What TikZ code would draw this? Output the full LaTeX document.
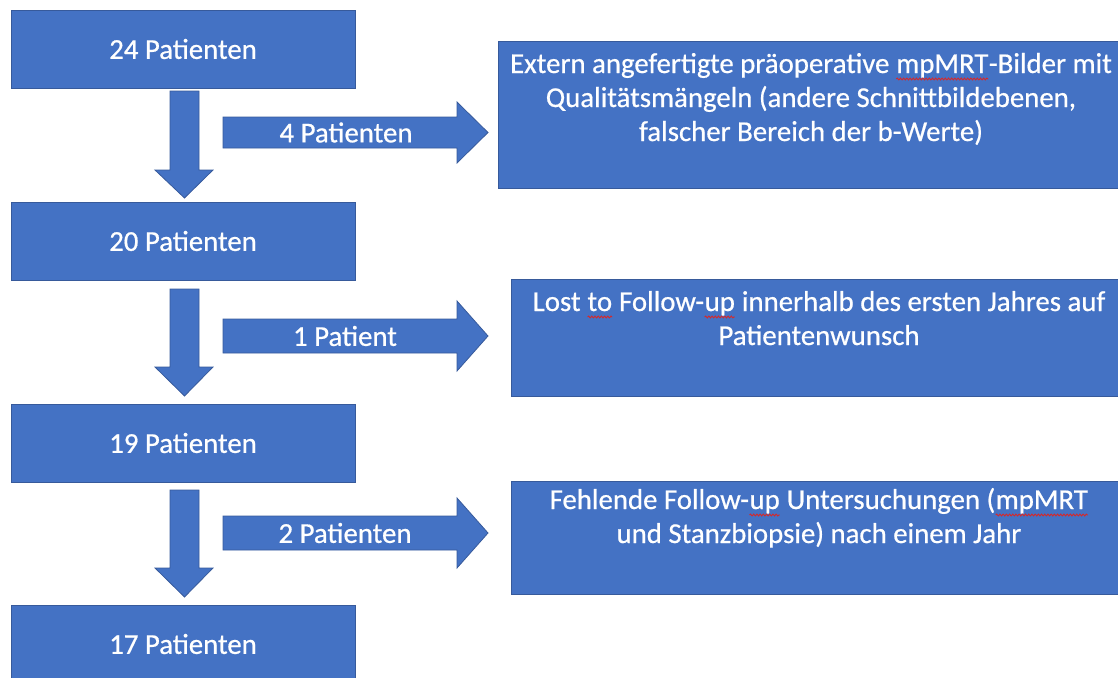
\documentclass[tikz,border=0pt]{standalone}
\usepackage{fontspec}
\setmainfont{Carlito}[UprightFeatures={FakeBold=0.6}]
\usetikzlibrary{decorations.pathmorphing}
\definecolor{boxblue}{RGB}{68,114,196}
\definecolor{boxline}{RGB}{55,90,155}
\definecolor{spellred}{RGB}{215,40,40}
\newcommand\spellwave[1]{\tikz[baseline=(w.base)]{\node[inner sep=0pt,outer sep=0pt](w){#1};\draw[spellred, line width=0.9pt, decorate, decoration={snake, amplitude=0.9pt, segment length=3.2pt}] ([yshift=-6pt]w.base west) -- ([yshift=-6pt]w.base east);}}
\tikzset{
  box/.style={draw=boxline, line width=0.8pt, fill=boxblue, rectangle, inner sep=0pt},
  blockarrow/.style={draw=boxline, line width=0.8pt, fill=boxblue, line join=miter},
  txt/.style={text=white, font=\fontsize{28.8}{34}\selectfont, align=center, inner sep=0pt}
}
\begin{document}
\begin{tikzpicture}[x=1pt,y=-1pt]
\useasboundingbox (0,0) rectangle (1118,677);
\clip (0,0) rectangle (1118,677);
% left boxes
\node[box, txt, minimum width=344pt, minimum height=78pt] (b1) at (183,49) {24 Patienten};
\node[box, txt, minimum width=344pt, minimum height=78pt] (b2) at (183,241) {20 Patienten};
\node[box, txt, minimum width=344pt, minimum height=78pt] (b3) at (183,443) {19 Patienten};
\node[box, txt, minimum width=344pt, minimum height=85pt, anchor=north] (b4) at (183,605) {};
\node[txt] (b4t) at (183,644) {17 Patienten};
% right boxes (run past the right edge of the picture)
\node[box, minimum width=640pt, minimum height=146.5pt, anchor=north west] (r1) at (498,41) {};
\node[box, minimum width=630pt, minimum height=117pt, anchor=north west] (r2) at (511,279) {};
\node[box, minimum width=630pt, minimum height=113pt, anchor=north west] (r3) at (511,481) {};
% base anchor = baseline of the last line
\node[txt, anchor=base] (t1) at (811,141) {Extern angefertigte präoperative \spellwave{mpMRT}-Bilder mit\\Qualitätsmängeln (andere Schnittbildebenen,\\falscher Bereich der b-Werte)};
\node[txt, anchor=base] (t2) at (819,345) {Lost \spellwave{to} Follow-\spellwave{up} innerhalb des ersten Jahres auf\\Patientenwunsch};
\node[txt, anchor=base] (t3) at (819,543) {Fehlende Follow-\spellwave{up} Untersuchungen (\spellwave{mpMRT}\\und Stanzbiopsie) nach einem Jahr};
% down arrows
\draw[blockarrow] (170,91) -- (199,91) -- (199,170) -- (213,170) -- (184.5,198) -- (155,170) -- (170,170) -- cycle;
\draw[blockarrow] (170,289) -- (199,289) -- (199,367) -- (213,367) -- (184.5,396) -- (155,367) -- (170,367) -- cycle;
\draw[blockarrow] (170,490) -- (199,490) -- (199,568) -- (213,568) -- (184.5,597) -- (155,568) -- (170,568) -- cycle;
% right arrows
\draw[blockarrow] (223,117) -- (457,117) -- (457,102) -- (488,132.5) -- (457,163) -- (457,148) -- (223,148) -- cycle;
\draw[blockarrow] (223,319) -- (457,319) -- (457,301) -- (488,336) -- (457,371) -- (457,353) -- (223,353) -- cycle;
\draw[blockarrow] (223,516) -- (457,516) -- (457,498) -- (488,533) -- (457,568) -- (457,550) -- (223,550) -- cycle;
\node[txt] (a1) at (346,132.5) {4 Patienten};
\node[txt] (a2) at (345,336) {1 Patient};
\node[txt] (a3) at (345,533) {2 Patienten};
\end{tikzpicture}
\end{document}
